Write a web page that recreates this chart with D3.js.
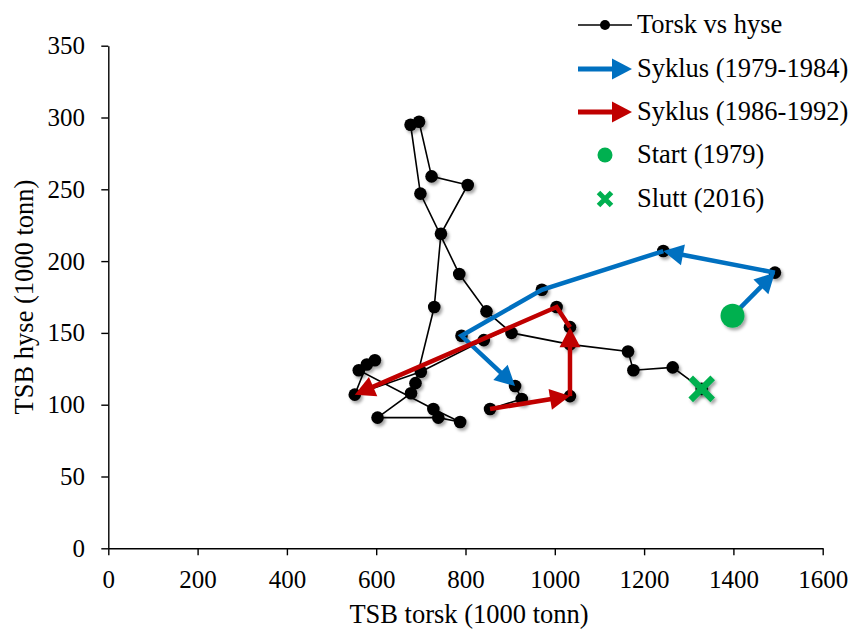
<!DOCTYPE html>
<html>
<head>
<meta charset="utf-8">
<script src="https://cdn.jsdelivr.net/npm/d3@7"></script>
<style>
  body { margin: 0; background: #fff; }
  svg { display: block; }
  text { font-family: "Liberation Serif", "Times New Roman", serif; fill: #000; }
</style>
</head>
<body>
<svg id="chart" width="853" height="629"></svg>
<script>
// Total stock biomass (1000 tonnes), cod (torsk) vs haddock (hyse), by year
const years = [1979, 1980, 1981, 1982, 1983, 1984, 1985, 1986, 1987, 1988,
               1989, 1990, 1991, 1992, 1993, 1994, 1995, 1996, 1997, 1998,
               1999, 2000, 2001, 2002, 2003, 2004, 2005, 2006, 2007, 2008,
               2009, 2010, 2011, 2012, 2013, 2014, 2015, 2016];
const torsk = [1398, 1493, 1243, 971, 791, 911, 926, 855, 1034, 1034,
               1004, 841, 700, 552, 579, 597, 561, 728, 788, 739,
               603, 678, 688, 730, 745, 805, 724, 696, 677, 699,
               786, 847, 903, 1034, 1164, 1176, 1264, 1329];
const hyse  = [162, 192, 207, 180, 148, 113, 104, 97, 106, 154,
               168, 145, 123, 107, 128, 131, 124, 97, 88, 91,
               91, 108, 115, 168, 219, 253, 259, 297, 295, 247,
               191, 165, 150, 142, 137, 124, 126, 111];

const xTicks = [0, 200, 400, 600, 800, 1000, 1200, 1400, 1600];
const yTicks = [0, 50, 100, 150, 200, 250, 300, 350];

// Arrow legs of the two cycles (each leg ends in an arrowhead)
const cycleBlue = [[1979, 1980], [1980, 1981], [1981, 1982, 1983, 1984]];
const cycleRed  = [[1986, 1987], [1987, 1988], [1988, 1989, 1992]];
const startYear = 1979;
const endYear = 2016;

const legendLabels = ["Torsk vs hyse", "Syklus (1979-1984)", "Syklus (1986-1992)",
                      "Start (1979)", "Slutt (2016)"];
const xTitle = "TSB torsk (1000 tonn)";
const yTitle = "TSB hyse (1000 tonn)";

const BLUE = "#0070c0", RED = "#c00000", GREEN = "#00b050";

const svg = d3.select("#chart");
const plotLeft = 108.3, plotRight = 822.7, plotTop = 45.7, plotBottom = 548.3;

const x = d3.scaleLinear().domain([0, 1600]).range([plotLeft, plotRight]);
const y = d3.scaleLinear().domain([0, 350]).range([plotBottom, plotTop]);

// soft drop shadow for markers
const defs = svg.append("defs");
const f = defs.append("filter").attr("id", "shadow")
  .attr("x", "-50%").attr("y", "-50%").attr("width", "200%").attr("height", "200%");
f.append("feDropShadow").attr("dx", 2).attr("dy", 2.5).attr("stdDeviation", 1.6)
  .attr("flood-color", "#000").attr("flood-opacity", 0.35);

// axes
const xAxis = svg.append("g").attr("transform", `translate(0,${plotBottom})`)
  .call(d3.axisBottom(x).tickValues(xTicks).tickSize(7).tickSizeOuter(0).tickFormat(d3.format("d")));
xAxis.selectAll("text").attr("dy", null).attr("y", 39.5).style("font-size", "25px");

const yAxis = svg.append("g").attr("transform", `translate(${plotLeft},0)`)
  .call(d3.axisLeft(y).tickValues(yTicks).tickSize(7).tickSizeOuter(0).tickFormat(d3.format("d")));
yAxis.selectAll("text").attr("x", -23.3).style("font-size", "25px");

svg.selectAll(".domain, .tick line").attr("stroke", "#000").attr("stroke-width", 1.4);
svg.selectAll(".tick text").attr("fill", "#000").style("font-family", '"Liberation Serif","Times New Roman",serif');

svg.append("text").attr("x", 469).attr("y", 623)
  .attr("text-anchor", "middle").style("font-size", "26.5px").text(xTitle);
svg.append("text").attr("transform", `translate(33,${(plotTop + plotBottom) / 2}) rotate(-90)`)
  .attr("text-anchor", "middle").style("font-size", "26.5px").text(yTitle);

// data table
const pts = years.map((yr, i) => ({ year: yr, t: torsk[i], h: hyse[i] }));
const byYear = new Map(pts.map(p => [p.year, p]));

// black connected series
svg.append("path").datum(pts)
  .attr("fill", "none").attr("stroke", "#000").attr("stroke-width", 1.6)
  .attr("d", d3.line().x(d => x(d.t)).y(d => y(d.h)));

svg.append("g").attr("filter", "url(#shadow)")
  .selectAll("circle").data(pts).join("circle")
  .attr("cx", d => x(d.t)).attr("cy", d => y(d.h)).attr("r", 6.3).attr("fill", "#000");

// arrow legs
const HEAD_LEN = 20, HEAD_W = 10.5;
function drawArrow(g, coords, color, width) {
  const n = coords.length;
  const [tx, ty] = coords[n - 1];
  const [px, py] = coords[n - 2];
  const dx = tx - px, dy = ty - py, len = Math.hypot(dx, dy);
  const ux = dx / len, uy = dy / len;
  const bx = tx - ux * HEAD_LEN, by = ty - uy * HEAD_LEN;
  const linePts = coords.slice(0, n - 1).concat([[tx - ux * HEAD_LEN * 0.7, ty - uy * HEAD_LEN * 0.7]]);
  g.append("path").attr("d", d3.line()(linePts))
    .attr("fill", "none").attr("stroke", color).attr("stroke-width", width)
    .attr("stroke-linejoin", "miter");
  g.append("path")
    .attr("d", d3.line()([[tx, ty], [bx - uy * HEAD_W, by + ux * HEAD_W], [bx + uy * HEAD_W, by - ux * HEAD_W]]) + "Z")
    .attr("fill", color);
}

const arrows = svg.append("g");
cycleBlue.forEach(leg => drawArrow(arrows, leg.map(yr => [x(byYear.get(yr).t), y(byYear.get(yr).h)]), BLUE, 4.5));
cycleRed.forEach(leg => drawArrow(arrows, leg.map(yr => [x(byYear.get(yr).t), y(byYear.get(yr).h)]), RED, 4.5));

// start / end markers
const s = byYear.get(startYear), e = byYear.get(endYear);
const marks = svg.append("g").attr("filter", "url(#shadow)");
marks.append("circle").attr("cx", x(s.t)).attr("cy", y(s.h)).attr("r", 12).attr("fill", GREEN);
function cross(g, cx, cy, half, w) {
  g.append("path")
    .attr("d", `M${cx - half},${cy - half}L${cx + half},${cy + half}M${cx - half},${cy + half}L${cx + half},${cy - half}`)
    .attr("stroke", GREEN).attr("stroke-width", w).attr("fill", "none");
}
cross(marks, x(e.t), y(e.h), 11, 6.5);

// legend
const lg = svg.append("g");
const lx0 = 578, lx1 = 632, ltx = 637;
const rowY = [25, 69, 112, 155, 199];
rowY.forEach((ry, i) => {
  lg.append("text").attr("x", ltx).attr("y", ry + 8).style("font-size", "26.5px").text(legendLabels[i]);
});
lg.append("line").attr("x1", lx0).attr("x2", lx1).attr("y1", rowY[0]).attr("y2", rowY[0])
  .attr("stroke", "#000").attr("stroke-width", 1.6);
lg.append("circle").attr("cx", (lx0 + lx1) / 2).attr("cy", rowY[0]).attr("r", 5).attr("fill", "#000");
drawArrow(lg, [[lx0, rowY[1]], [lx1, rowY[1]]], BLUE, 5);
drawArrow(lg, [[lx0, rowY[2]], [lx1, rowY[2]]], RED, 5);
lg.append("circle").attr("cx", (lx0 + lx1) / 2).attr("cy", rowY[3]).attr("r", 7.5).attr("fill", GREEN);
cross(lg, (lx0 + lx1) / 2, rowY[4], 6.5, 5);
</script>
</body>
</html>
